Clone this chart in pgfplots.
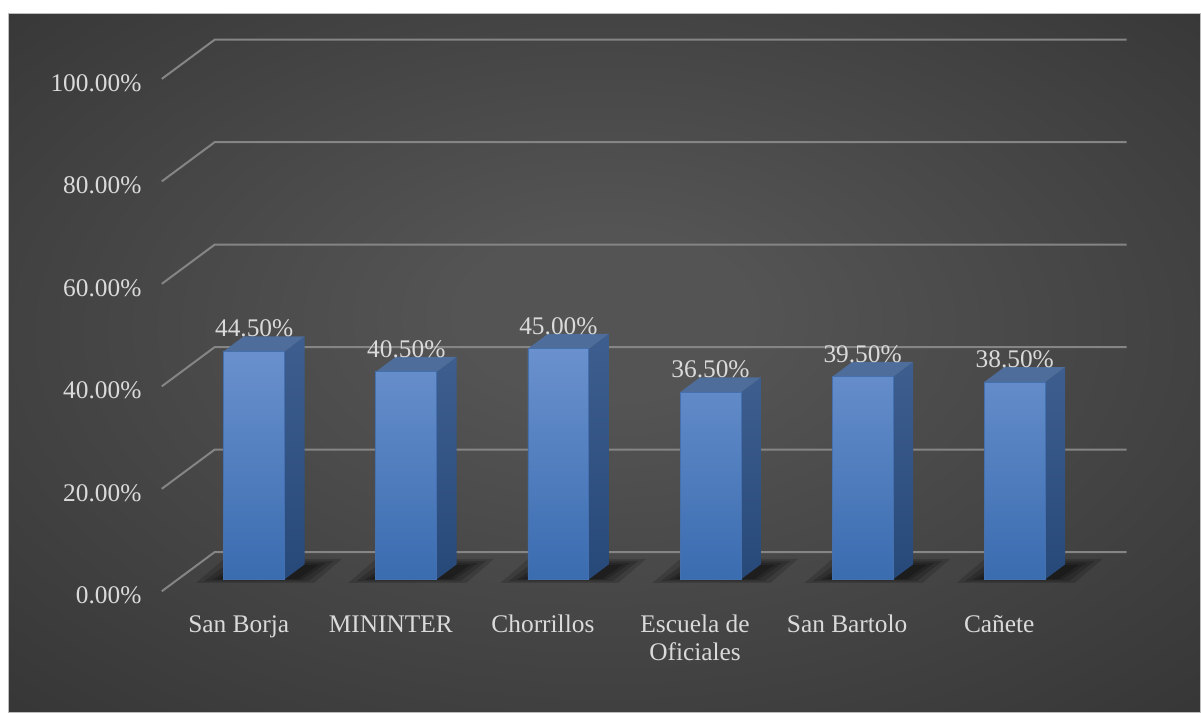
\documentclass[border=0pt]{standalone}
\usepackage{pgfplots}
\usepackage{pgfplotstable}
\pgfplotsset{compat=1.18}
\usepackage{fontspec}
\setmainfont{Liberation Serif}
\definecolor{bgin}{HTML}{545454}
\definecolor{bgout}{HTML}{292929}
\definecolor{gridc}{HTML}{858585}
\definecolor{txt}{HTML}{DADADA}
\definecolor{frontTop}{HTML}{6A91CD}
\definecolor{frontBot}{HTML}{3A6CB0}
\definecolor{sideTop}{HTML}{3D5E8E}
\definecolor{sideBot}{HTML}{27497A}
\definecolor{topc}{HTML}{4E6D9B}
\definecolor{edgec}{HTML}{4470AE}
\definecolor{framec}{HTML}{BDBDBD}
\pgfdeclareradialshading{bgshade}{\pgfpoint{0bp}{4bp}}{color(0bp)=(bgin); color(6bp)=(bgin); color(50bp)=(bgout)}
\newcommand\lblfont{\fontsize{12.7}{14}\selectfont}
% shadow outlines relative to each bar centre
\pgfplotstableread{
dx y
-58 -0.7
60 -0.7
88 4.0
-30 4.0
}\shadowA
\pgfplotstableread{
dx y
-50 -0.4
54 -0.4
80 3.6
-23 3.6
}\shadowB
\pgfplotstableread{
dx y
-42 -0.1
48 -0.1
72 3.2
-16 3.2
}\shadowC
\pgfplotstableread{
dx y
-36 0.1
44 0.1
64 2.8
-10 2.8
}\shadowD
\begin{document}
\begin{tikzpicture}
\begin{axis}[
  set layers=standard,
  x=0.5pt, y=2.565pt,
  xmin=0, xmax=1201, ymin=-25.536, ymax=113.06,
  axis line style={draw=none},
  tick style={draw=none},
  major tick length=0pt,
  clip=false,
  /pgf/number format/assume math mode=true,
  xtick={239,391.3,543.6,695.9,848.2,1000.5},
  xticklabels={{\strut San Borja}, {\strut MININTER}, {\strut Chorrillos}, {\strut Escuela de\\\strut Oficiales}, {\strut San Bartolo}, {\strut Cañete}},
  xticklabel style={anchor=north, yshift=48.8pt, align=center, font=\lblfont, text=txt, inner sep=0pt},
  ytick={-3.12,16.88,36.88,56.88,76.88,96.88},
  yticklabels={0.00\%,20.00\%,40.00\%,60.00\%,80.00\%,100.00\%},
  yticklabel style={anchor=east, xshift=71pt, inner sep=0pt, font=\lblfont, text=txt},
]
% background
\addplot[on layer=axis background, fill=white, draw=none] coordinates {(0,-25.536)(0,113.06)(1201,113.06)(1201,-25.536)} -- cycle;
\addplot[on layer=axis background, shading=bgshade, draw=framec, line width=0.5pt] coordinates {(9,-26)(9,110.33)(1202,110.33)(1202,-26)} -- cycle;
% gridlines (perspective)
\addplot[on layer=axis background, gridc, line width=1pt] coordinates {(162,-2.34)(215,5.32)(1128,5.32)};
\addplot[on layer=axis background, gridc, line width=1pt] coordinates {(162,17.66)(215,25.32)(1128,25.32)};
\addplot[on layer=axis background, gridc, line width=1pt] coordinates {(162,37.66)(215,45.32)(1128,45.32)};
\addplot[on layer=axis background, gridc, line width=1pt] coordinates {(162,57.66)(215,65.32)(1128,65.32)};
\addplot[on layer=axis background, gridc, line width=1pt] coordinates {(162,77.66)(215,85.32)(1128,85.32)};
\addplot[on layer=axis background, gridc, line width=1pt] coordinates {(162,97.66)(215,105.32)(1128,105.32)};
% soft shadows
\pgfplotsinvokeforeach{254.5,406.8,559.1,711.4,863.7,1016.0}{
  \addplot[fill=black, opacity=0.16, draw=none] table[x expr=#1+\thisrow{dx}, y=y] {\shadowA} -- cycle;
  \addplot[fill=black, opacity=0.18, draw=none] table[x expr=#1+\thisrow{dx}, y=y] {\shadowB} -- cycle;
  \addplot[fill=black, opacity=0.2, draw=none] table[x expr=#1+\thisrow{dx}, y=y] {\shadowC} -- cycle;
  \addplot[fill=black, opacity=0.22, draw=none] table[x expr=#1+\thisrow{dx}, y=y] {\shadowD} -- cycle;
}
% side faces
\addplot[top color=sideTop, bottom color=sideBot, draw=none] coordinates {(285,0)(305,2.92)(305,47.42)(285,44.5)} -- cycle;
\addplot[top color=sideTop, bottom color=sideBot, draw=none] coordinates {(437.3,0)(457.3,2.92)(457.3,43.42)(437.3,40.5)} -- cycle;
\addplot[top color=sideTop, bottom color=sideBot, draw=none] coordinates {(589.6,0)(609.6,2.92)(609.6,47.92)(589.6,45)} -- cycle;
\addplot[top color=sideTop, bottom color=sideBot, draw=none] coordinates {(741.9,0)(761.9,2.92)(761.9,39.42)(741.9,36.5)} -- cycle;
\addplot[top color=sideTop, bottom color=sideBot, draw=none] coordinates {(894.2,0)(914.2,2.92)(914.2,42.42)(894.2,39.5)} -- cycle;
\addplot[top color=sideTop, bottom color=sideBot, draw=none] coordinates {(1046.5,0)(1066.5,2.92)(1066.5,41.42)(1046.5,38.5)} -- cycle;
% top faces
\addplot[fill=topc, draw=none] coordinates {(224,44.5)(285,44.5)(305,47.42)(244,47.42)} -- cycle;
\addplot[fill=topc, draw=none] coordinates {(376.3,40.5)(437.3,40.5)(457.3,43.42)(396.3,43.42)} -- cycle;
\addplot[fill=topc, draw=none] coordinates {(528.6,45)(589.6,45)(609.6,47.92)(548.6,47.92)} -- cycle;
\addplot[fill=topc, draw=none] coordinates {(680.9,36.5)(741.9,36.5)(761.9,39.42)(700.9,39.42)} -- cycle;
\addplot[fill=topc, draw=none] coordinates {(833.2,39.5)(894.2,39.5)(914.2,42.42)(853.2,42.42)} -- cycle;
\addplot[fill=topc, draw=none] coordinates {(985.5,38.5)(1046.5,38.5)(1066.5,41.42)(1005.5,41.42)} -- cycle;
% front faces (data)
\addplot[ybar, bar width=61, bar shift=0pt, draw=edgec, line width=0.4pt,
  top color=frontTop, bottom color=frontBot,
  nodes near coords={\pgfmathprintnumber[fixed,fixed zerofill,precision=2]{\pgfplotspointmeta}\%},
  every node near coord/.append style={anchor=base, yshift=7.2pt, font=\lblfont, text=txt, inner sep=0pt}]
  coordinates {(254.5,44.5)(406.8,40.5)(559.1,45)(711.4,36.5)(863.7,39.5)(1016.0,38.5)};
\end{axis}
\end{tikzpicture}
\end{document}
